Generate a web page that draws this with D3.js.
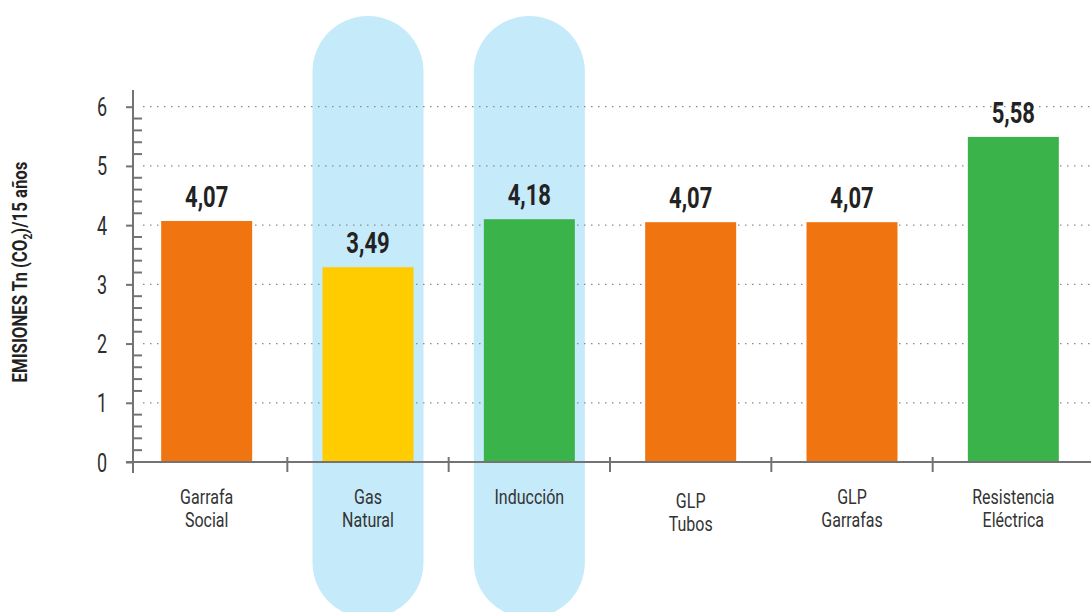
<!DOCTYPE html>
<html>
<head>
<meta charset="utf-8">
<script src="https://cdn.jsdelivr.net/npm/d3@7"></script>
<style>
  body { margin: 0; background: #fff; }
  svg { display: block; }
  text { font-family: Roboto, "Liberation Sans", sans-serif; fill: #2b2b2b; }
</style>
</head>
<body>
<div id="chart"></div>
<script>
const categories = [
  ["Garrafa", "Social"],
  ["Gas", "Natural"],
  ["Inducción"],
  ["GLP", "Tubos"],
  ["GLP", "Garrafas"],
  ["Resistencia", "Eléctrica"]
];
// bar heights as drawn in the picture
const values = [4.07, 3.29, 4.10, 4.05, 4.05, 5.49];
// printed labels above the bars
const valueLabels = ["4,07", "3,49", "4,18", "4,07", "4,07", "5,58"];
const barColors = ["#f07511", "#ffcc00", "#39b34a", "#f07511", "#f07511", "#39b34a"];
const highlighted = [1, 2];
const yTicks = [0, 1, 2, 3, 4, 5, 6];

const width = 1091, height = 612;
const margin = { top: 106.7, bottom: 150, left: 126, right: -3 };
const squeeze = 0.76; // fake a condensed face

const svg = d3.select("#chart")
  .append("svg")
  .attr("width", width)
  .attr("height", height);

const x = d3.scaleBand()
  .domain(d3.range(categories.length))
  .range([margin.left, width - margin.right])
  .paddingInner(0.436)
  .paddingOuter(0.218);

const y = d3.scaleLinear()
  .domain([0, 6])
  .range([height - margin.bottom, margin.top]);

const axisX = 133;

// blue pills behind the highlighted options
const pillW = 111;
svg.append("g")
  .selectAll("rect")
  .data(highlighted)
  .join("rect")
  .attr("x", i => x(i) + x.bandwidth() / 2 - pillW / 2)
  .attr("y", 16)
  .attr("width", pillW)
  .attr("height", 602)
  .attr("rx", pillW / 2)
  .attr("fill", "#c5eaf9");

// dotted grid
svg.append("g")
  .selectAll("line")
  .data(yTicks.slice(1))
  .join("line")
  .attr("x1", axisX + 10)
  .attr("x2", width)
  .attr("y1", d => y(d))
  .attr("y2", d => y(d))
  .attr("stroke", "#8a8a8a")
  .attr("stroke-width", 1.2)
  .attr("stroke-dasharray", "1.5,5.5");

// bars
svg.append("g")
  .selectAll("rect")
  .data(values)
  .join("rect")
  .attr("x", (d, i) => x(i))
  .attr("y", d => y(d))
  .attr("width", x.bandwidth())
  .attr("height", d => y(0) - y(d))
  .attr("fill", (d, i) => barColors[i]);

// value labels
svg.append("g")
  .selectAll("text")
  .data(values)
  .join("text")
  .attr("transform", (d, i) => `translate(${x(i) + x.bandwidth() / 2},${y(d) - 14}) scale(${squeeze},1)`)
  .attr("text-anchor", "middle")
  .attr("font-size", 29)
  .attr("font-weight", "bold")
  .style("fill", "#222")
  .text((d, i) => valueLabels[i]);

// y axis
const axisColor = "#737373";
const yAxis = d3.axisLeft(y).tickValues(yTicks).tickFormat(d3.format("d")).tickSize(7);
const gy = svg.append("g")
  .attr("transform", `translate(${axisX},0)`)
  .call(yAxis);
gy.select(".domain").remove();
gy.selectAll(".tick line").attr("stroke", axisColor).attr("stroke-width", 2);
gy.selectAll(".tick text")
  .attr("x", null)
  .attr("dy", null)
  .attr("transform", `translate(-31,9) scale(0.72,1)`)
  .attr("text-anchor", "middle")
  .attr("font-size", 25)
  .attr("font-weight", 400)
  .attr("font-family", null)
  .style("fill", "#2e2e2e");

// minor ticks pointing right
const minor = d3.range(0, 6.01, 0.2).filter(v => Math.abs(v - Math.round(v)) > 0.01);
svg.append("g")
  .selectAll("line")
  .data(minor)
  .join("line")
  .attr("x1", axisX)
  .attr("x2", axisX + 9)
  .attr("y1", d => y(d))
  .attr("y2", d => y(d))
  .attr("stroke", axisColor)
  .attr("stroke-width", 2);

svg.append("line")
  .attr("x1", axisX).attr("x2", axisX)
  .attr("y1", 90).attr("y2", 473)
  .attr("stroke", axisColor).attr("stroke-width", 2);

// x axis
svg.append("line")
  .attr("x1", margin.left).attr("x2", width)
  .attr("y1", y(0)).attr("y2", y(0))
  .attr("stroke", axisColor).attr("stroke-width", 2);

const bounds = d3.range(1, categories.length).map(i => x(i) - x.step() * x.paddingInner() / 2);
svg.append("g")
  .selectAll("line")
  .data(bounds)
  .join("line")
  .attr("x1", d => d).attr("x2", d => d)
  .attr("y1", y(0) - 5).attr("y2", y(0) + 10)
  .attr("stroke", axisColor).attr("stroke-width", 2);

// category labels
const cat = svg.append("g")
  .selectAll("text")
  .data(categories)
  .join("text")
  .attr("transform", (d, i) => `translate(${x(i) + x.bandwidth() / 2},${i === 3 ? 508 : 504}) scale(0.8,1)`)
  .attr("text-anchor", "middle")
  .attr("font-size", 20)
  .style("fill", "#333");
cat.selectAll("tspan")
  .data(d => d)
  .join("tspan")
  .attr("x", 0)
  .attr("dy", (d, j) => j === 0 ? 0 : 23)
  .text(d => d);

// axis title
const title = svg.append("text")
  .attr("transform", "translate(27,272) rotate(-90) scale(0.8,1)")
  .attr("text-anchor", "middle")
  .attr("font-size", 21)
  .attr("font-weight", "bold")
  .style("fill", "#222");
title.append("tspan").text("EMISIONES Tn (CO");
title.append("tspan").attr("font-size", 13).attr("dy", 5).text("2");
title.append("tspan").attr("dy", -5).text(")/15 años");
</script>
</body>
</html>
